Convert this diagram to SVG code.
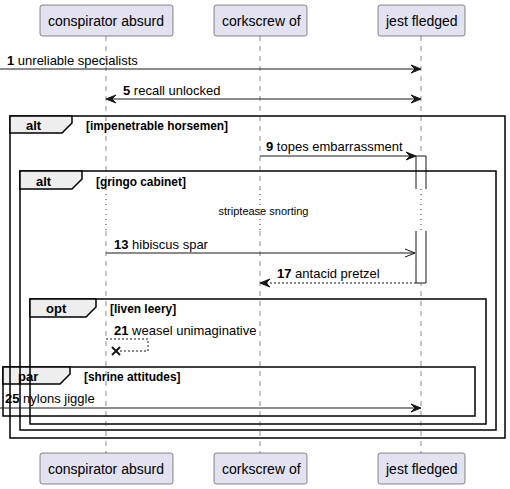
<svg xmlns="http://www.w3.org/2000/svg" width="510" height="489" viewBox="0 0 510 489">
<style>
.pbox{fill:#E2E2F0;stroke:#181818;stroke-width:0.5}
.pname{font-family:"Liberation Sans",Arial,sans-serif;font-size:14px;fill:#000}
.life{stroke:#181818;stroke-width:0.5;stroke-dasharray:5,5;fill:none}
.delay{stroke:#A80036;stroke-width:1;stroke-dasharray:1,4;fill:none}
.msg{stroke:#181818;stroke-width:1;fill:none}
.dash{stroke-dasharray:2,2}
.head{fill:#181818;stroke:#181818;stroke-width:1}
.t{font-family:"Liberation Sans",Arial,sans-serif;font-size:13px;fill:#000}
.b{font-weight:bold}
.frame{fill:none;stroke:#000;stroke-width:1.5}
.tab{fill:#EEEEEE;stroke:#000;stroke-width:1.5}
.fl{font-family:"Liberation Sans",Arial,sans-serif;font-size:13px;font-weight:bold;fill:#000}
.fc{font-family:"Liberation Sans",Arial,sans-serif;font-size:11.9px;font-weight:bold;fill:#000}
.act{fill:#FFFFFF;stroke:#181818;stroke-width:1}
</style>
<g id="lifelines">
<path class="life" d="M106,36 V189 M106,231 V453"/>
<path class="life" d="M260,36 V189 M260,231 V453"/>
<path class="life" d="M421,36 V189 M421,231 V453"/>
<path class="delay" d="M106,189 V231 M260,189 V231 M421,189 V231"/>
</g>
<g id="p-conspirator-absurd">
<rect class="pbox" x="40" y="5" width="133" height="31" rx="2.5"/>
<text class="pname" x="48" y="26">conspirator absurd</text>
<rect class="pbox" x="40" y="453" width="133" height="31" rx="2.5"/>
<text class="pname" x="48" y="474">conspirator absurd</text>
</g>
<g id="p-corkscrew-of">
<rect class="pbox" x="214" y="5" width="93" height="31" rx="2.5"/>
<text class="pname" x="222" y="26">corkscrew of</text>
<rect class="pbox" x="214" y="453" width="93" height="31" rx="2.5"/>
<text class="pname" x="222" y="474">corkscrew of</text>
</g>
<g id="p-jest-fledged">
<rect class="pbox" x="378" y="5" width="87" height="31" rx="2.5"/>
<text class="pname" x="386" y="26">jest fledged</text>
<rect class="pbox" x="378" y="453" width="87" height="31" rx="2.5"/>
<text class="pname" x="386" y="474">jest fledged</text>
</g>
<g id="activation">
<path class="act" d="M416,189 V156 H426 V189"/>
<path class="act" d="M416,231 V283 H426 V231"/>
</g>
<g id="frame-par">
<rect class="frame" x="3" y="367" width="472" height="49"/>
<path class="tab" d="M3,367 H70 V374 L60,384 H3 Z"/>
<text class="fl" x="18" y="381">par</text>
<text class="fc" x="84" y="381">[shrine attitudes]</text>
</g>
<g id="frame-alt-outer">
<rect class="frame" x="10" y="116" width="495" height="322"/>
<path class="tab" d="M10,116 H72 V123 L62,133 H10 Z"/>
<text class="fl" x="26" y="130">alt</text>
<text class="fc" x="86" y="130">[impenetrable horsemen]</text>
</g>
<g id="frame-alt-inner">
<rect class="frame" x="20" y="171" width="476" height="259"/>
<path class="tab" d="M20,171 H82 V179 L72,189 H20 Z"/>
<text class="fl" x="36" y="186">alt</text>
<text class="fc" x="96" y="186">[gringo cabinet]</text>
</g>
<g id="frame-opt">
<rect class="frame" x="30" y="299" width="456" height="125"/>
<path class="tab" d="M30,299 H96 V307 L86,317 H30 Z"/>
<text class="fl" x="46" y="313">opt</text>
<text class="fc" x="110" y="313">[liven leery]</text>
</g>
<g id="connectors">
<line class="msg" x1="0" y1="69" x2="419" y2="69"/>
<polygon class="head" points="421,69 411,65 415,69 411,73"/>
<line class="msg" x1="108" y1="99" x2="419" y2="99"/>
<polygon class="head" points="421,99 411,95 415,99 411,103"/>
<polygon class="head" points="106,99 116,95 112,99 116,103"/>
<line class="msg" x1="260" y1="156" x2="414" y2="156"/>
<polygon class="head" points="416,156 406,152 410,156 406,160"/>
<line class="msg" x1="106" y1="253" x2="415" y2="253"/>
<path class="msg" d="M405,249 L415,253 L405,257"/>
<line class="msg dash" x1="416" y1="283" x2="262" y2="283"/>
<polygon class="head" points="260,283 270,279 266,283 270,287"/>
<path class="msg dash" d="M106,339 H148 V351 H114"/>
<path class="msg" d="M112,347 L120,355 M120,347 L112,355" style="stroke-width:2"/>
<line class="msg" x1="0" y1="408" x2="419" y2="408"/>
<polygon class="head" points="421,408 411,404 415,408 411,412"/>
</g>
<g id="labels">
<text class="t" x="7" y="65"><tspan class="b">1</tspan> unreliable specialists</text>
<text class="t" x="123" y="95"><tspan class="b">5</tspan> recall unlocked</text>
<text class="t" x="266" y="151"><tspan class="b">9</tspan> topes embarrassment</text>
<text x="263.5" y="215" text-anchor="middle" style="font-family:'Liberation Sans',Arial,sans-serif;font-size:11px">striptease snorting</text>
<text class="t" x="114" y="249"><tspan class="b">13</tspan> hibiscus spar</text>
<text class="t" x="277" y="278"><tspan class="b">17</tspan> antacid pretzel</text>
<text class="t" x="114" y="335"><tspan class="b">21</tspan> weasel unimaginative</text>
<text class="t" x="5" y="403"><tspan class="b">25</tspan> nylons jiggle</text>
</g>
</svg>
